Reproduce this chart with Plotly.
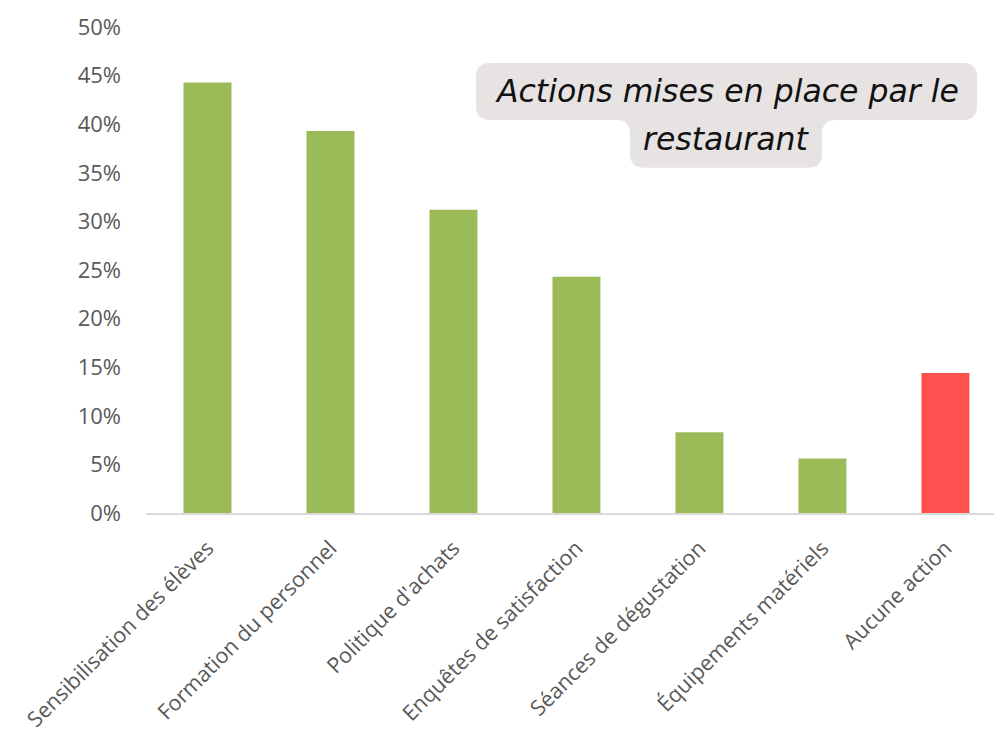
import plotly.graph_objects as go

# Share of restaurants for each action put in place
categories = [
    "Sensibilisation des élèves",
    "Formation du personnel",
    "Politique d'achats",
    "Enquêtes de satisfaction",
    "Séances de dégustation",
    "Équipements matériels",
    "Aucune action",
]
values = [0.443, 0.393, 0.312, 0.243, 0.083, 0.056, 0.144]
bar_colors = ["#9BBB59"] * 6 + ["#FF5050"]

tick_vals = [0, 0.05, 0.10, 0.15, 0.20, 0.25, 0.30, 0.35, 0.40, 0.45, 0.50]
tick_text = ["0%", "5%", "10%", "15%", "20%", "25%", "30%", "35%", "40%", "45%", "50%"]

title_lines = ["Actions mises en place par le", "restaurant"]

W, H = 994, 735
ML, MR, MT, MB = 146, 0, 27, 221.5
PW, PH = W - ML - MR, H - MT - MB


def px(x, y):
    """Pixel position -> paper coordinates."""
    return (x - ML) / PW, (H - MB - y) / PH


def pt(x, y):
    a, b = px(x, y)
    return f"{a:.5f},{b:.5f}"


fig = go.Figure(
    go.Bar(
        x=categories,
        y=values,
        marker=dict(color=bar_colors, line=dict(width=0)),
        width=0.39,
    )
)

# Rounded label box behind the title (two stacked rounded rectangles with fillets)
L, R, T, B = 476, 977, 63, 120
l, r, b = 630, 822, 168
k = 14
path = (
    f"M{pt(L + k, T)} L{pt(R - k, T)} Q{pt(R, T)} {pt(R, T + k)} "
    f"L{pt(R, B - k)} Q{pt(R, B)} {pt(R - k, B)} "
    f"L{pt(r + k, B)} Q{pt(r, B)} {pt(r, B + k)} "
    f"L{pt(r, b - k)} Q{pt(r, b)} {pt(r - k, b)} "
    f"L{pt(l + k, b)} Q{pt(l, b)} {pt(l, b - k)} "
    f"L{pt(l, B + k)} Q{pt(l, B)} {pt(l - k, B)} "
    f"L{pt(L + k, B)} Q{pt(L, B)} {pt(L, B - k)} "
    f"L{pt(L, T + k)} Q{pt(L, T)} {pt(L + k, T)} Z"
)
fig.add_shape(
    type="path", path=path, xref="paper", yref="paper",
    fillcolor="#E6E3E2", line=dict(width=0), layer="above",
)

for text, (cx, cy) in zip(title_lines, [(727, 91), (726, 139)]):
    ax, ay = px(cx, cy)
    fig.add_annotation(
        text=text, x=ax, y=ay, xref="paper", yref="paper",
        showarrow=False, xanchor="center", yanchor="middle",
        font=dict(family="DejaVu Sans", size=31.5, color="#111111", style="italic"),
    )

fig.update_layout(
    width=W, height=H,
    margin=dict(l=ML, r=MR, t=MT, b=MB, pad=0, autoexpand=False),
    paper_bgcolor="white", plot_bgcolor="white",
    showlegend=False,
    font=dict(family="Open Sans", color="#595959"),
)
fig.update_xaxes(
    range=[-0.5, (W - ML) / (PW / 6.895) - 0.5],
    showline=True, linecolor="#D9D9D9", linewidth=2,
    showgrid=False, ticks="", tickangle=-45, automargin=False,
    ticklabelstandoff=12,
    tickfont=dict(family="Open Sans", size=21.5, color="#595959"),
)
fig.update_yaxes(
    range=[0, 0.5], tickvals=tick_vals, ticktext=tick_text,
    showgrid=False, zeroline=False, showline=False, ticks="", automargin=False,
    ticklabelstandoff=24,
    tickfont=dict(family="Open Sans", size=22, color="#595959"),
)

fig.write_html("out.html")
